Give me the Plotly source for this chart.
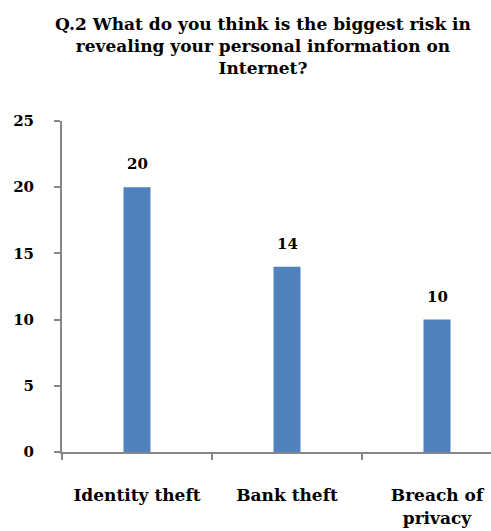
import plotly.graph_objects as go

categories = ["Identity theft", "Bank theft", "Breach of<br>privacy"]
values = [20, 14, 10]
y_ticks = [0, 5, 10, 15, 20, 25]

W, H = 491, 531
L, R, T, B = 62, 0, 121, 79
cat_px = 150.0
plot_w = W - L - R
plot_h = H - T - B

FONT = "DejaVu Serif"
bold = dict(family=FONT, color="#000000", weight="bold")

fig = go.Figure(go.Bar(
    x=categories, y=values,
    marker=dict(color="#4F81BD", line=dict(width=0)),
    width=0.18,
    cliponaxis=False,
))

annotations = [dict(
    text="Q.2 What do you think is the biggest risk in<br>revealing your personal information on<br>Internet?",
    xref="paper", yref="paper",
    x=(263 - L) / plot_w, xanchor="center",
    y=1 + 109 / plot_h, yanchor="top",
    showarrow=False, align="center",
    font=dict(**bold, size=17),
)]
for c, v in zip(categories, values):
    annotations.append(dict(
        x=c, y=v, xref="x", yref="y", text=str(v),
        showarrow=False, yanchor="middle", yshift=23,
        font=dict(**bold, size=15),
    ))

fig.update_layout(
    width=W, height=H,
    margin=dict(l=L, r=R, t=T, b=B),
    paper_bgcolor="white", plot_bgcolor="white",
    showlegend=False,
    font=dict(family=FONT, color="#000000"),
    annotations=annotations,
)

fig.update_xaxes(
    type="category",
    range=[-0.5, -0.5 + plot_w / cat_px],
    showline=True, linecolor="#868686", linewidth=2,
    ticks="outside", tickson="boundaries", ticklen=6, tickcolor="#868686", tickwidth=2,
    tickfont=dict(**bold, size=17),
    ticklabelstandoff=27,
    showgrid=False, zeroline=False,
)
fig.update_yaxes(
    range=[0, 25], tickvals=y_ticks,
    showline=True, linecolor="#868686", linewidth=2,
    ticks="outside", ticklen=6, tickcolor="#868686", tickwidth=2,
    tickfont=dict(**bold, size=15),
    ticklabelstandoff=17,
    showgrid=False, zeroline=False,
)

fig.write_html("out.html")
